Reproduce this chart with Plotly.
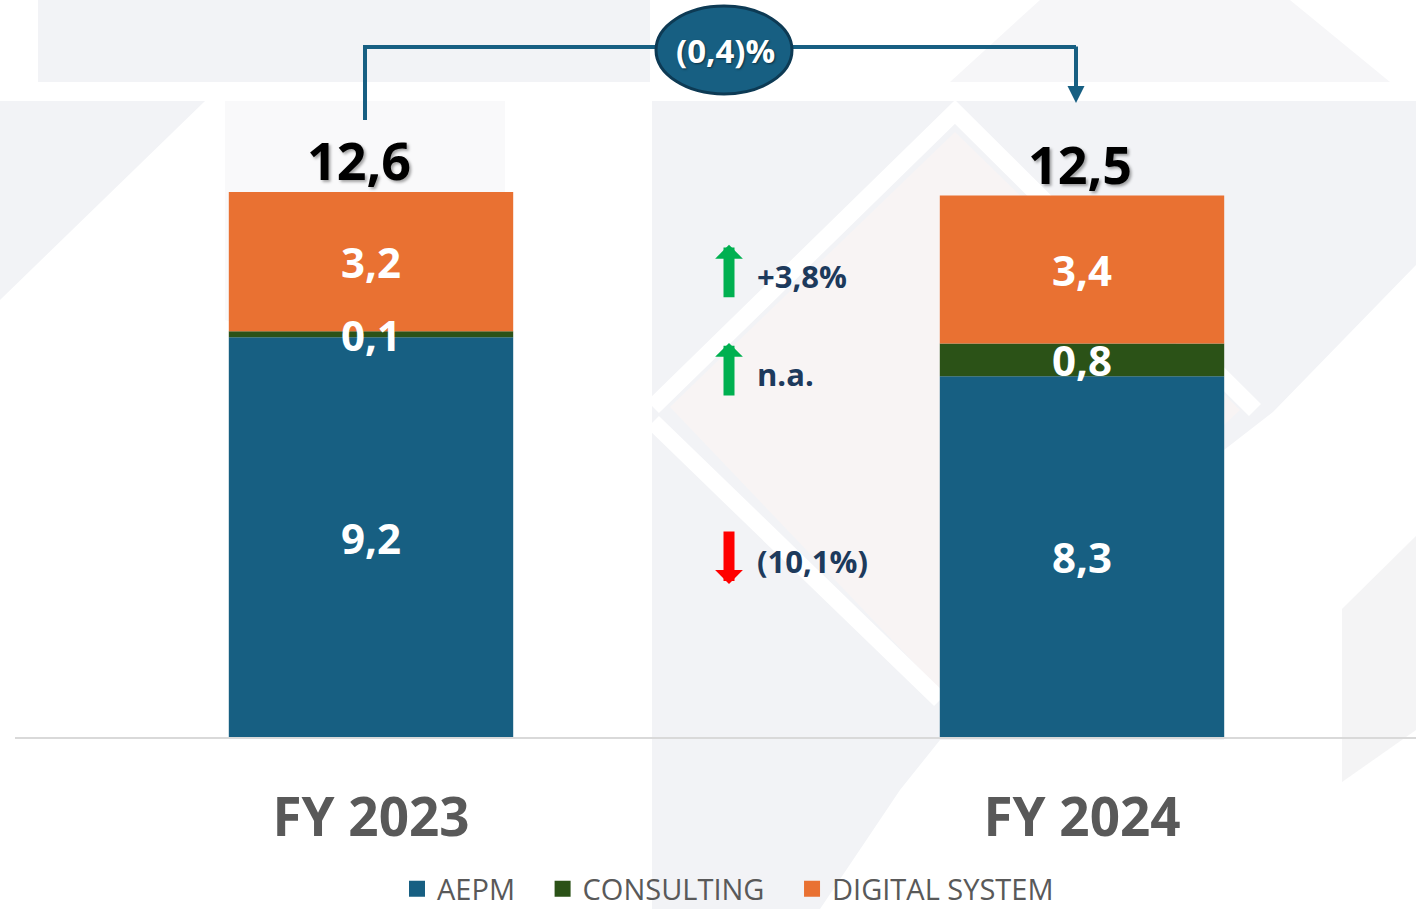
import plotly.graph_objects as go

years = ["FY 2023", "FY 2024"]
# segment values (labels round to one decimal)
aepm = [9.24, 8.34]
consulting = [0.14, 0.76]
digital = [3.22, 3.42]
totals = [12.6, 12.5]
series_names = ["AEPM", "CONSULTING", "DIGITAL SYSTEM"]
changes = ["+3,8%", "n.a.", "(10,1%)"]      # digital, consulting, aepm
change_up = [True, True, False]
total_change = "(0,4)%"

colors = {"AEPM": "#175f82", "CONSULTING": "#2b5217", "DIGITAL SYSTEM": "#e97132"}
FONT = "Open Sans"
W, H = 1416, 909
ML, MB = 15, 172
PW, PH = W - ML, H - MB


def fmt(v):
    return f"{v:.1f}".replace(".", ",")


def pp(px, py):
    # pixel -> paper coords (decoration only)
    return (px - ML) / PW, (PH - py) / PH


def poly(points, close=True):
    parts = []
    for i, (px, py) in enumerate(points):
        x, y = pp(px, py)
        parts.append(("M" if i == 0 else "L") + f"{x:.5f},{y:.5f}")
    return " ".join(parts) + (" Z" if close else "")


xpos = list(range(len(years)))
fig = go.Figure()

stack = [("AEPM", aepm), ("CONSULTING", consulting), ("DIGITAL SYSTEM", digital)]
base = [0.0] * len(years)
annotations = []
for name, vals in stack:
    fig.add_trace(go.Bar(x=xpos, y=vals, base=base, name=name, width=0.4,
                         marker=dict(color=colors[name], line=dict(width=0)),
                         showlegend=False, hoverinfo="skip"))
    for i, v in enumerate(vals):
        annotations.append(dict(x=xpos[i], y=base[i] + v / 2, text=fmt(v), showarrow=False,
                                font=dict(family=FONT, size=42, color="white", weight="bold")))
    base = [b + v for b, v in zip(base, vals)]

# legend entries with bigger square symbols (padding keeps the wide gaps)
for k, name in enumerate(series_names):
    pad = "\u00a0" * 3 if k < len(series_names) - 1 else ""
    fig.add_trace(go.Scatter(x=[None], y=[None], mode="markers", name=name + pad,
                             marker=dict(symbol="square", size=18, color=colors[name])))

# totals above bars
for i, t in enumerate(totals):
    annotations.append(dict(x=xpos[i], y=base[i], text=fmt(t), showarrow=False, yanchor="bottom",
                            yshift=-5, xshift=[-12, -2][i],
                            font=dict(family=FONT, size=52, color="black", weight="bold",
                                      shadow="2px 2px 3px rgba(0,0,0,0.35)")))

# change indicators in the middle
ind_x = (729 - 371) / 711
txt_x = (755 - 371) / 711
tip_y = [11.38, 9.11, 3.54]
lab_y = [10.66, 8.39, 4.07]
for lbl, up, ty, ly in zip(changes, change_up, tip_y, lab_y):
    annotations.append(dict(x=ind_x, y=ty, text="", showarrow=True, arrowhead=1,
                            arrowwidth=11, arrowsize=0.42, ax=0, ay=54 if up else -54,
                            arrowcolor="#00b050" if up else "#ff0000", standoff=0))
    annotations.append(dict(x=txt_x, y=ly, text=lbl, showarrow=False, xanchor="left",
                            font=dict(family=FONT, size=31, color="#1d3a5c", weight="bold")))

shapes = []
# faint background decoration
bg = "#f2f3f6"
deco = [
    ([(38, 0), (650, 0), (650, 82), (38, 82)], bg),
    ([(950, 82), (1040, 0), (1290, 0), (1390, 82)], "#f6f6f8"),
    ([(0, 101), (205, 101), (0, 300)], bg),
    ([(225, 101), (505, 101), (505, 400), (225, 320)], "#f9f9fa"),
    ([(652, 101), (1416, 101), (1416, 265), (1273, 412), (1224, 450), (1224, 740),
      (940, 740), (900, 790), (820, 909), (652, 909)], bg),
    ([(670, 407), (955, 132), (1240, 410), (940, 690)], "#f8f4f4"),
    ([(1342, 609), (1416, 536), (1416, 730), (1342, 782)], "#f4f4f5"),
]
for pts, col in deco:
    shapes.append(dict(type="path", xref="paper", yref="paper", layer="below",
                       line=dict(width=0), fillcolor=col, path=poly(pts)))
for pts in ([(653, 407), (955, 112), (1255, 410)], [(653, 422), (940, 700)]):
    shapes.append(dict(type="path", xref="paper", yref="paper", layer="below",
                       line=dict(width=17, color="white"), path=poly(pts, close=False)))

# bracket with overall change
bx0, bx1 = -6 / 711, 1 - 6 / 711
yb = (PH - 47) / PH
shapes.append(dict(type="path", xref="x", yref="paper", line=dict(color="#175f82", width=4),
                   path=f"M{bx0},{(PH - 120) / PH} L{bx0},{yb} L{bx1},{yb}"))
annotations.append(dict(x=bx1, y=(PH - 103) / PH, xref="x", yref="paper", ax=0, ay=-58,
                        text="", showarrow=True, arrowhead=2,
                        arrowwidth=4, arrowsize=0.85, arrowcolor="#175f82", standoff=0))
ex0, ey0 = pp(656, 94)
ex1, ey1 = pp(792, 6)
shapes.append(dict(type="circle", xref="paper", yref="paper", x0=ex0, x1=ex1, y0=ey0, y1=ey1,
                   fillcolor="#175f82", line=dict(color="#0d3a54", width=3)))
cx, cy = pp(726, 50)
annotations.append(dict(x=cx, y=cy, xref="paper", yref="paper", xanchor="center",
                        yanchor="middle", text=total_change, showarrow=False,
                        font=dict(family=FONT, size=33, color="white", weight="bold",
                                  shadow="1px 1px 2px rgba(0,0,0,0.5)")))

fig.update_layout(
    width=W, height=H,
    margin=dict(l=ML, r=0, t=0, b=MB),
    paper_bgcolor="white", plot_bgcolor="rgba(0,0,0,0)",
    barmode="overlay",
    font=dict(family=FONT),
    xaxis=dict(range=[-(371 - ML) / 711, -(371 - ML) / 711 + PW / 711], tickvals=xpos,
               ticktext=years, showgrid=False, zeroline=False, showline=True,
               linecolor="#d9d9d9", linewidth=2, ticks="", ticklabelstandoff=33,
               tickfont=dict(family=FONT, size=53, color="#595959", weight="bold")),
    yaxis=dict(range=[0, PH / 43.25], visible=False),
    legend=dict(orientation="h", xref="container", yref="container", x=397 / W,
                xanchor="left", y=1 - 889 / H, yanchor="middle",
                font=dict(family=FONT, size=29, color="#595959"),
                bgcolor="rgba(0,0,0,0)"),
    shapes=shapes,
    annotations=annotations,
)

fig.write_html("out.html", config={"displayModeBar": False},
               post_script="document.body.style.margin='0';")
